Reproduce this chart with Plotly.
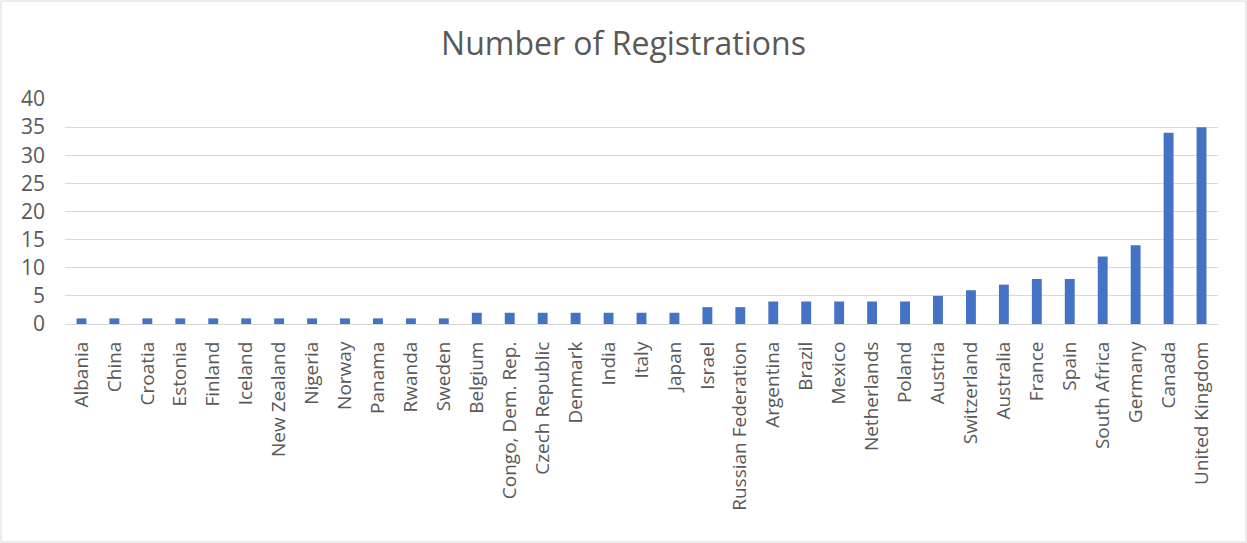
import plotly.graph_objects as go

countries = ["Albania", "China", "Croatia", "Estonia", "Finland", "Iceland", "New Zealand",
             "Nigeria", "Norway", "Panama", "Rwanda", "Sweden", "Belgium", "Congo, Dem. Rep.",
             "Czech Republic", "Denmark", "India", "Italy", "Japan", "Israel", "Russian Federation",
             "Argentina", "Brazil", "Mexico", "Netherlands", "Poland", "Austria", "Switzerland",
             "Australia", "France", "Spain", "South Africa", "Germany", "Canada", "United Kingdom"]
registrations = [1, 1, 1, 1, 1, 1, 1, 1, 1, 1, 1, 1, 2, 2, 2, 2, 2, 2, 2, 3, 3,
                 4, 4, 4, 4, 4, 5, 6, 7, 8, 8, 12, 14, 34, 35]
y_ticks = [0, 5, 10, 15, 20, 25, 30, 35, 40]

W, H = 1247, 543
ml, mr, mt, mb = 65, 29, 99, 219
pw, ph = W - ml - mr, H - mt - mb

fig = go.Figure(go.Bar(x=countries, y=registrations, marker_color="#4472C4",
                       marker_line_width=0, width=0.3))

fig.update_layout(
    width=W, height=H,
    margin=dict(l=ml, r=mr, t=mt, b=mb),
    paper_bgcolor="white", plot_bgcolor="white",
    font=dict(family="Open Sans", color="#595959", size=19),
    title=dict(text="Number of Registrations", x=0.5, xanchor="center",
               y=1 - 44 / H, yanchor="middle",
               font=dict(size=32, color="#595959")),
    showlegend=False,
    xaxis=dict(tickangle=-90, showgrid=False, showline=True, linecolor="#d9d9d9",
               linewidth=1, ticks="", tickfont=dict(size=19), ticklabelstandoff=9),
    yaxis=dict(range=[0, 40], tickvals=y_ticks, showgrid=True, gridcolor="#d9d9d9",
               gridwidth=1, zeroline=False, ticks="", tickfont=dict(size=21),
               showline=False, ticklabelstandoff=19),
    shapes=[dict(type="rect", xref="paper", yref="paper",
                 x0=-(ml - 1) / pw, x1=1 + (mr - 1) / pw,
                 y0=-(mb - 1) / ph, y1=1 + (mt - 1) / ph,
                 line=dict(color="#d9d9d9", width=1))],
)

fig.write_html("out.html", config={"displayModeBar": False})
with open("out.html", "r", encoding="utf-8") as f:
    html = f.read()
html = html.replace("<head>", "<head><style>html,body{margin:0;padding:0;overflow:hidden;}</style>", 1)
with open("out.html", "w", encoding="utf-8") as f:
    f.write(html)
